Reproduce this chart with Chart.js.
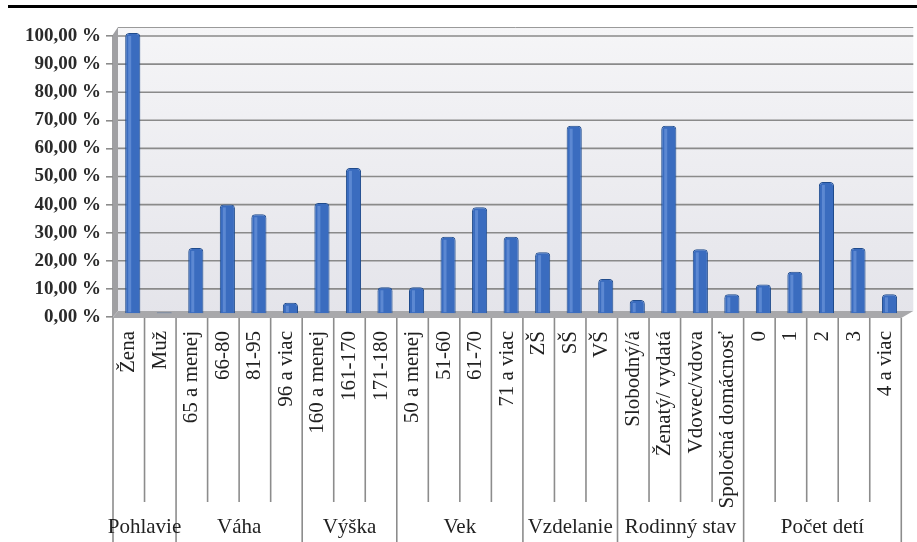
<!DOCTYPE html>
<html>
<head>
<meta charset="utf-8">
<script src="https://cdn.jsdelivr.net/npm/chart.js@4/dist/chart.umd.min.js"></script>
<style>
  html, body { margin: 0; padding: 0; background: #fff; }
  #wrap { width: 917px; height: 542px; position: relative; }
</style>
</head>
<body>
<div id="wrap"><canvas id="chart"></canvas></div>
<script>
// kategórie (os X)
var categories = [
    'Žena', 'Muž',
    '65 a menej', '66-80', '81-95', '96 a viac',
    '160 a menej', '161-170', '171-180',
    '50 a menej', '51-60', '61-70', '71 a viac',
    'ZŠ', 'SŠ', 'VŠ',
    'Slobodný/á', 'Ženatý/ vydatá', 'Vdovec/vdova', 'Spoločná domácnosť',
    '0', '1', '2', '3', '4 a viac'
];
// skupiny a počet kategórií v každej
var groups = ['Pohlavie', 'Váha', 'Výška', 'Vek', 'Vzdelanie', 'Rodinný stav', 'Počet detí'];
var groupSizes = [2, 4, 3, 4, 3, 4, 5];
// hodnoty v %
var values = [
    100, 0.5,
    23.5, 39, 35.5, 4,
    39.5, 52, 9.5,
    9.5, 27.5, 38, 27.5,
    22, 67, 12.5,
    5, 67, 23, 7,
    10.5, 15, 47, 23.5, 7
];
var yTicks = [0, 10, 20, 30, 40, 50, 60, 70, 80, 90, 100];

var serif = '"Liberation Serif", "Times New Roman", serif';
var DX = 5, DY = 6;   // hĺbka 3D efektu

var decor = {
    id: 'decor',
    beforeDraw: function (chart) {
        var ctx = chart.ctx, a = chart.chartArea, y = chart.scales.y;
        ctx.save();
        // horná čiara
        ctx.fillStyle = '#000';
        ctx.fillRect(8, 5, 909, 3);
        // zadná stena
        var top = a.top - 9;
        var g = ctx.createLinearGradient(0, top, 0, a.bottom);
        g.addColorStop(0, '#f5f5f7');
        g.addColorStop(1, '#e4e4ea');
        ctx.fillStyle = g;
        ctx.fillRect(a.left + DX, top, a.right + 12 - a.left - DX, a.bottom - DY - top);
        ctx.strokeStyle = '#9a9a9a';
        ctx.lineWidth = 1;
        ctx.beginPath();
        ctx.moveTo(a.left + DX, top + 0.5);
        ctx.lineTo(a.right + 12, top + 0.5);
        ctx.stroke();
        // ľavá stena
        ctx.fillStyle = '#a0a0a3';
        ctx.beginPath();
        ctx.moveTo(a.left - 1, top + DY + 3);
        ctx.lineTo(a.left + DX, top);
        ctx.lineTo(a.left + DX, a.bottom - DY);
        ctx.lineTo(a.left - 1, a.bottom + 1);
        ctx.closePath();
        ctx.fill();
        // mriežka
        ctx.strokeStyle = '#8a8a8a';
        ctx.lineWidth = 1.6;
        yTicks.forEach(function (v) {
            var py = y.getPixelForValue(v);
            if (v === 0) return;
            ctx.beginPath();
            ctx.moveTo(a.left + DX, py);
            ctx.lineTo(a.right + 12, py);
            ctx.stroke();
        });
        // podlaha
        ctx.fillStyle = '#a8a8ab';
        ctx.beginPath();
        ctx.moveTo(a.left - 1, a.bottom + 1);
        ctx.lineTo(a.left + DX, a.bottom - DY);
        ctx.lineTo(a.right + 12, a.bottom - DY);
        ctx.lineTo(a.right, a.bottom + 1);
        ctx.closePath();
        ctx.fill();
        ctx.restore();
    },
    beforeDatasetsDraw: function (chart) {
        chart.ctx.save();
        chart.ctx.translate(4, -3);
    },
    afterDatasetsDraw: function (chart) {
        var ctx = chart.ctx;
        // svetlý pruh na stĺpcoch (valcový vzhľad)
        chart.getDatasetMeta(0).data.forEach(function (bar) {
            var h = bar.base - bar.y;
            if (h < 4) return;
            ctx.fillStyle = 'rgba(120,160,225,0.55)';
            ctx.fillRect(bar.x - bar.width / 2 + 3, bar.y + 3, 3, h - 4);
        });
        ctx.restore();
    },
    afterDraw: function (chart) {
        var ctx = chart.ctx, a = chart.chartArea;
        var step = (a.right - a.left) / categories.length;
        ctx.save();
        ctx.strokeStyle = '#8c8c8c';
        ctx.lineWidth = 1.6;
        // deliace čiary medzi kategóriami
        var idx = 0, ends = { 0: true };
        groupSizes.forEach(function (n) { idx += n; ends[idx] = true; });
        for (var i = 0; i <= categories.length; i++) {
            var px = a.left + i * step;
            ctx.beginPath();
            ctx.moveTo(px, a.bottom + 1);
            ctx.lineTo(px, ends[i] ? 542 : 502);
            ctx.stroke();
        }
        // názvy skupín
        ctx.fillStyle = '#222';
        ctx.font = '21px ' + serif;
        ctx.textAlign = 'center';
        ctx.textBaseline = 'middle';
        var start = 0;
        groups.forEach(function (name, k) {
            var c = a.left + (start + groupSizes[k] / 2) * step;
            ctx.fillText(name, c, 527);
            start += groupSizes[k];
        });
        ctx.restore();
    }
};

new Chart(document.getElementById('chart'), {
    type: 'bar',
    data: {
        labels: categories,
        datasets: [{
            data: values,
            backgroundColor: '#3a6cbf',
            borderColor: '#1f4b8c',
            borderWidth: 1,
            borderRadius: { topLeft: 4, topRight: 4 },
            borderSkipped: 'bottom',
            barPercentage: 0.48,
            categoryPercentage: 1
        }]
    },
    options: {
        responsive: true,
        maintainAspectRatio: false,
        animation: false,
        layout: { padding: { top: 36, right: 14, left: 0, bottom: 0 } },
        plugins: { legend: { display: false }, tooltip: { enabled: false } },
        scales: {
            x: {
                grid: { display: false },
                border: { display: false },
                ticks: {
                    autoSkip: false,
                    minRotation: 90,
                    maxRotation: 90,
                    padding: 6,
                    color: '#222',
                    font: { family: serif, size: 21 }
                },
                afterFit: function (scale) { scale.height = 225; }
            },
            y: {
                min: 0,
                max: 100,
                afterBuildTicks: function (scale) {
                    scale.ticks = yTicks.map(function (v) { return { value: v }; });
                },
                grid: {
                    color: '#8c8c8c',
                    lineWidth: 1.6,
                    tickLength: 7,
                    drawOnChartArea: false
                },
                border: { display: false },
                ticks: {
                    padding: 5,
                    color: '#2a2a2a',
                    font: { family: serif, size: 19, weight: 'bold' },
                    callback: function (v) { return v.toFixed(2).replace('.', ',') + ' %'; }
                },
                afterFit: function (scale) { scale.width = 113; }
            }
        }
    },
    plugins: [decor]
});
</script>
</body>
</html>
